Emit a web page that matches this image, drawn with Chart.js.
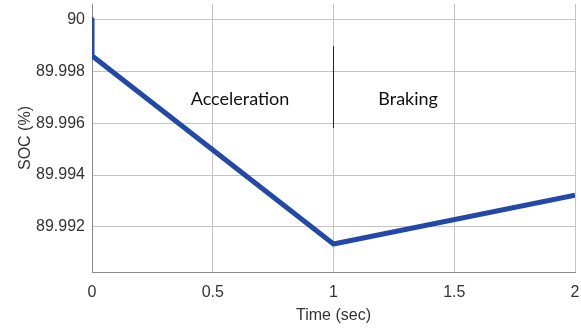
<!DOCTYPE html>
<html>
<head>
<meta charset="utf-8">
<script src="https://cdn.jsdelivr.net/npm/chart.js@4/dist/chart.umd.min.js"></script>
<style>
  html, body { margin: 0; padding: 0; background: #fff; }
  #wrap { width: 581px; height: 328px; }
</style>
</head>
<body>
<div id="wrap"><canvas id="c" width="581" height="328"></canvas></div>
<script>
// State of charge over the drive cycle
const timeSec = [0, 0, 1, 2];
const socPct = [90.0, 89.9986, 89.99134, 89.99322];

// Thin marker separating the acceleration and braking phases
const markerTime = [1, 1];
const markerSoc = [89.99897, 89.99583];

// Axis ticks
const xTicks = [0, 0.5, 1, 1.5, 2];
const yTicks = [89.992, 89.994, 89.996, 89.998, 90];
const yTickLabels = ['89.992', '89.994', '89.996', '89.998', '90'];

// Phase labels
const phaseNames = ['Acceleration', 'Braking'];
const phaseTime = [0.613, 1.309];
const phaseSoc = [89.99691, 89.99691];

const phaseLabels = {
  id: 'phaseLabels',
  afterDatasetsDraw(chart) {
    const { ctx, scales } = chart;
    ctx.save();
    ctx.fillStyle = '#111';
    ctx.font = '18px Lato, "Open Sans", sans-serif';
    ctx.textAlign = 'center';
    ctx.textBaseline = 'middle';
    phaseNames.forEach((name, i) => {
      ctx.fillText(name, scales.x.getPixelForValue(phaseTime[i]), scales.y.getPixelForValue(phaseSoc[i]));
    });
    ctx.restore();
  }
};

new Chart(document.getElementById('c'), {
  type: 'line',
  data: {
    datasets: [
      {
        data: markerTime.map((t, i) => ({ x: t, y: markerSoc[i] })),
        borderColor: '#222',
        borderWidth: 1,
        pointRadius: 0,
        tension: 0
      },
      {
        data: timeSec.map((t, i) => ({ x: t, y: socPct[i] })),
        borderColor: '#2349a6',
        borderWidth: 5,
        pointRadius: 0,
        tension: 0,
        borderJoinStyle: 'round',
        borderCapStyle: 'butt'
      }
    ]
  },
  options: {
    responsive: false,
    animation: false,
    layout: { padding: { top: 4, right: 6, bottom: 0, left: 0 } },
    plugins: { legend: { display: false }, tooltip: { enabled: false } },
    scales: {
      x: {
        type: 'linear',
        min: 0,
        max: 2,
        afterBuildTicks(scale) { scale.ticks = xTicks.map(v => ({ value: v })); },
        afterFit(scale) {
          scale.height = 56;
          scale.paddingLeft = 0;
          scale.paddingRight = 0;
        },
        grid: { color: '#c4c4c4', lineWidth: 1, drawTicks: false },
        border: { color: '#8a8a8a', width: 1 },
        ticks: {
          padding: 11,
          color: '#333',
          font: { family: '"Liberation Sans", Arial, sans-serif', size: 16 },
          callback: v => String(v)
        },
        title: {
          display: true,
          text: 'Time (sec)',
          color: '#333',
          font: { family: '"Liberation Sans", Arial, sans-serif', size: 16 },
          padding: { top: 0, bottom: 3 }
        }
      },
      y: {
        type: 'linear',
        min: 89.99026,
        max: 90.0006,
        afterBuildTicks(scale) { scale.ticks = yTicks.map(v => ({ value: v })); },
        afterFit(scale) {
          scale.width = 92;
          scale.paddingTop = 0;
          scale.paddingBottom = 0;
        },
        grid: { color: '#c4c4c4', lineWidth: 1, drawTicks: false },
        border: { color: '#8a8a8a', width: 1 },
        ticks: {
          padding: 7,
          color: '#333',
          font: { family: '"Liberation Sans", Arial, sans-serif', size: 16 },
          callback: (v) => {
            const i = yTicks.findIndex(t => Math.abs(t - v) < 1e-7);
            return i >= 0 ? yTickLabels[i] : '';
          }
        },
        title: {
          display: true,
          text: 'SOC (%)',
          color: '#333',
          font: { family: '"Liberation Sans", Arial, sans-serif', size: 16 },
          padding: { top: 16, bottom: 0 }
        }
      }
    }
  },
  plugins: [phaseLabels]
});
</script>
</body>
</html>
